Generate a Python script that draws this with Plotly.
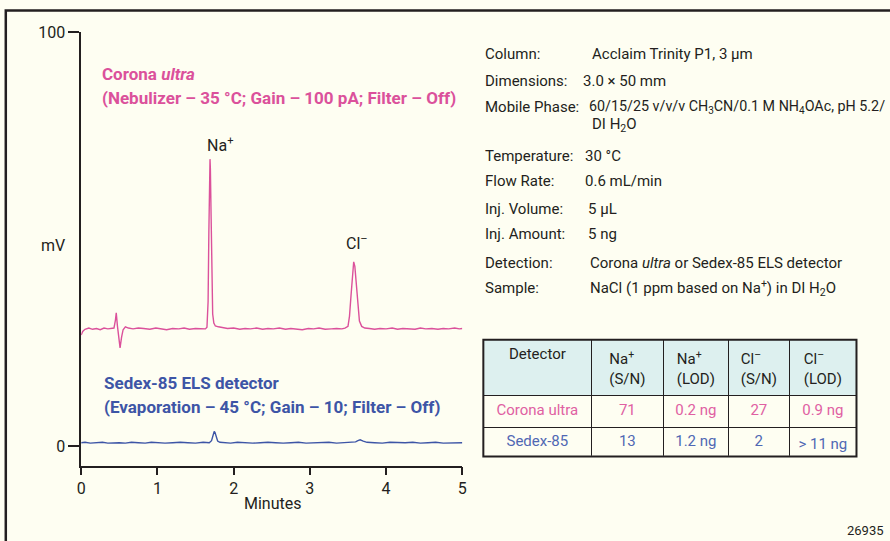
import plotly.graph_objects as go

# ---------------- data ----------------
corona_t = [0.00, 0.02, 0.05, 0.10, 0.15, 0.20, 0.25, 0.30, 0.35, 0.40, 0.43, 0.45, 0.46, 0.475,
            0.49, 0.51, 0.53, 0.55, 0.58, 0.62, 0.68, 0.75, 0.82, 0.90, 0.98, 1.05, 1.12, 1.20,
            1.28, 1.35, 1.42, 1.50, 1.56, 1.60, 1.63, 1.65, 1.665, 1.675, 1.685, 1.69, 1.695,
            1.705, 1.715, 1.725, 1.74, 1.76, 1.80, 1.86, 1.92, 2.00, 2.08, 2.15, 2.22, 2.30,
            2.38, 2.45, 2.52, 2.60, 2.68, 2.75, 2.82, 2.90, 2.98, 3.05, 3.12, 3.20, 3.28, 3.35,
            3.42, 3.46, 3.50, 3.52, 3.54, 3.56, 3.575, 3.59, 3.61, 3.63, 3.65, 3.68, 3.72, 3.78,
            3.85, 3.92, 4.00, 4.08, 4.15, 4.22, 4.30, 4.38, 4.45, 4.52, 4.60, 4.68, 4.75, 4.82,
            4.90, 4.96, 5.00]
corona_mv = [26.9, 27.8, 28.3, 28.6, 28.3, 28.5, 28.2, 28.6, 28.4, 28.5, 28.6, 30.6, 32.3, 29.2,
             26.0, 23.8, 26.4, 28.2, 28.9, 28.6, 28.4, 28.6, 28.5, 28.3, 28.6, 28.4, 28.2, 28.5,
             28.4, 28.6, 28.3, 28.5, 28.4, 28.3, 28.4, 28.8, 35.0, 52.0, 66.0, 69.4, 67.0,
             55.0, 40.0, 32.0, 29.8, 29.1, 28.9, 28.7, 28.5, 28.6, 28.3, 28.5, 28.4, 28.6,
             28.3, 28.5, 28.4, 28.6, 28.3, 28.5, 28.4, 28.2, 28.5, 28.4, 28.6, 28.3, 28.4, 28.5,
             28.4, 28.6, 29.0, 31.5, 36.5, 42.0, 44.6, 43.5, 39.0, 33.5, 30.3, 29.0, 28.6, 28.5,
             28.3, 28.5, 28.4, 28.6, 28.3, 28.5, 28.4, 28.3, 28.6, 28.4, 28.5, 28.3, 28.5, 28.4,
             28.6, 28.4, 28.5]

sedex_t = [0.00, 0.05, 0.12, 0.20, 0.28, 0.35, 0.42, 0.50, 0.58, 0.66, 0.75, 0.84, 0.92, 1.00,
           1.10, 1.20, 1.30, 1.40, 1.50, 1.60, 1.68, 1.71, 1.73, 1.745, 1.755, 1.77, 1.79, 1.82,
           1.88, 1.96, 2.05, 2.15, 2.25, 2.35, 2.45, 2.55, 2.65, 2.75, 2.85, 2.95, 3.05, 3.15,
           3.25, 3.35, 3.45, 3.55, 3.60, 3.63, 3.66, 3.70, 3.75, 3.85, 3.95, 4.05, 4.15, 4.25,
           4.35, 4.45, 4.55, 4.65, 4.75, 4.85, 4.95, 5.00]
sedex_mv = [0.9, 1.0, 0.8, 0.9, 1.0, 0.8, 0.9, 0.9, 0.8, 1.0, 0.9, 0.8, 1.0, 0.9,
            0.8, 0.9, 1.0, 0.9, 0.8, 1.0, 0.9, 1.4, 2.8, 3.6, 3.4, 2.2, 1.3, 1.0,
            0.9, 0.8, 1.0, 0.9, 0.8, 0.9, 1.0, 0.9, 0.8, 0.9, 1.0, 0.8, 0.9, 0.9,
            1.0, 0.8, 0.9, 1.0, 1.1, 1.4, 1.6, 1.3, 1.0, 0.9, 0.8, 1.0, 0.9, 0.9,
            1.0, 0.8, 0.9, 1.0, 0.8, 0.9, 1.0, 0.9]

x_ticks = [0, 1, 2, 3, 4, 5]
y_ticks = [0, 100]

peak_names = ["Na<sup>+</sup>", "Cl<sup>–</sup>"]
peak_times = [1.69, 3.575]
peak_label_mv = [70.0, 46.3]

cond_labels = ["Column:", "Dimensions:", "Mobile Phase:", "", "Temperature:", "Flow Rate:",
               "Inj. Volume:", "Inj. Amount:", "Detection:", "Sample:"]
cond_values = ["Acclaim Trinity P1, 3 µm", "3.0 × 50 mm",
               "60/15/25 v/v/v CH<sub>3</sub>CN/0.1 M NH<sub>4</sub>OAc, pH 5.2/",
               "DI H<sub>2</sub>O", "30 °C", "0.6 mL/min", "5 µL", "5 ng",
               "Corona <i>ultra</i> or Sedex-85 ELS detector",
               "NaCl (1 ppm based on Na<sup>+</sup>) in DI H<sub>2</sub>O"]

table_header = ["Detector", "Na<sup>+</sup><br>(S/N)", "Na<sup>+</sup><br>(LOD)",
                "Cl<sup>–</sup><br>(S/N)", "Cl<sup>–</sup><br>(LOD)"]
table_detectors = ["Corona ultra", "Sedex-85"]
na_sn = ["71", "13"]
na_lod = ["0.2 ng", "1.2 ng"]
cl_sn = ["27", "2"]
cl_lod = ["0.9 ng", "> 11 ng"]

# ---------------- style ----------------
W, H = 890, 541
BG = "#FEFEF2"
PINK = "#DB519B"
PINK_T = "#E060A2"
BLUE = "#3D55A6"
BLUE_T = "#5068B4"
INK = "#231F20"
FONT = "Roboto, Liberation Sans, sans-serif"

# the page is photographed with a slight scale/offset; place items by target pixel
SX, OX = 0.9895, 4.85
SY, OY = 0.9855, 7.5


def px(x):
    return ((x - OX) / SX) / W


def py(y):
    return 1 - ((y - OY) / SY) / H


fig = go.Figure()
fig.add_trace(go.Scatter(x=corona_t, y=corona_mv, mode="lines",
                         line=dict(color=PINK, width=1.4), showlegend=False, hoverinfo="skip"))
fig.add_trace(go.Scatter(x=sedex_t, y=sedex_mv, mode="lines",
                         line=dict(color=BLUE, width=1.4), showlegend=False, hoverinfo="skip"))

# table
nb = lambda vals: [v.replace(" ", "\u00a0") for v in vals]
cols = [nb(table_detectors), nb(na_sn), nb(na_lod), nb(cl_sn), nb(cl_lod)]
row_colors = [PINK_T, BLUE_T]
fig.add_trace(go.Table(
    domain=dict(x=[px(483), px(856)], y=[py(456), py(339)]),
    columnwidth=[108, 72, 65, 61, 67],
    header=dict(values=table_header, fill_color="#DDF0EF", line=dict(color=INK, width=1),
                align="center", height=55.8, font=dict(family=FONT, size=15, color=INK)),
    cells=dict(values=cols, fill_color=BG, line=dict(color=INK, width=1), align="center",
               height=31.5, font=dict(family=FONT, size=15, color=[row_colors] * 5)),
))

annotations = []
# trace captions
CAP = 17
captions = [("<b>Corona <i>ultra</i></b>", 100, 73, PINK),
            ("<b>(Nebulizer – 35 °C; Gain – 100 pA; Filter – Off)</b>", 100, 97, PINK),
            ("<b>Sedex-85 ELS detector</b>", 102, 382, BLUE),
            ("<b>(Evaporation – 45 °C; Gain – 10; Filter – Off)</b>", 102, 406, BLUE)]
for txt, cx, cy, col in captions:
    annotations.append(dict(x=px(cx), y=py(cy), xref="paper", yref="paper", xanchor="left",
                            yanchor="middle", showarrow=False, text=txt,
                            font=dict(family=FONT, size=CAP, color=col)))
# peak labels
label_shift = [10, 3]
for name, t, v, sh in zip(peak_names, peak_times, peak_label_mv, label_shift):
    annotations.append(dict(x=t, y=v, xref="x", yref="y", showarrow=False, text=name,
                            xanchor="center", yanchor="bottom", xshift=sh,
                            font=dict(family=FONT, size=16, color=INK)))
# axis titles
annotations.append(dict(x=px(53), y=py(245), xref="paper", yref="paper", showarrow=False,
                        xanchor="center", yanchor="middle",
                        text="mV", font=dict(family=FONT, size=16, color=INK)))
annotations.append(dict(x=px(273), y=py(503), xref="paper", yref="paper", showarrow=False,
                        xanchor="center", yanchor="middle",
                        text="Minutes", font=dict(family=FONT, size=16, color=INK)))
# conditions block
row_y = [53, 80, 106, 124, 155, 180, 208, 233, 262, 287]
val_x = [590, 581, 587, 590, 583, 583, 586, 586, 588, 588]
val_size = [15, 15, 14.3, 15, 15, 15, 15, 15, 15, 15]
for lab, val, yy, vx, vs in zip(cond_labels, cond_values, row_y, val_x, val_size):
    if lab:
        annotations.append(dict(x=px(483), y=py(yy), xref="paper", yref="paper",
                                xanchor="left", yanchor="middle", showarrow=False, text=lab,
                                font=dict(family=FONT, size=15, color=INK)))
    annotations.append(dict(x=px(vx), y=py(yy), xref="paper", yref="paper",
                            xanchor="left", yanchor="middle", showarrow=False, text=val,
                            font=dict(family=FONT, size=vs, color=INK)))
annotations.append(dict(x=px(886), y=py(530), xref="paper", yref="paper", xanchor="right",
                        yanchor="middle", showarrow=False, text="26935",
                        font=dict(family=FONT, size=13, color=INK)))

shapes = [
    dict(type="rect", xref="paper", yref="paper", x0=0.8 / W, x1=px(905), y0=py(570),
         y1=py(9), line=dict(color=INK, width=2.5), fillcolor="rgba(0,0,0,0)", layer="below"),
    dict(type="rect", xref="paper", yref="paper", x0=px(483), x1=px(856), y0=py(456),
         y1=py(339), line=dict(color=INK, width=2), fillcolor="rgba(0,0,0,0)"),
]

fig.update_layout(
    width=W, height=H, margin=dict(l=0, r=0, t=0, b=0),
    paper_bgcolor=BG, plot_bgcolor=BG,
    font=dict(family=FONT, size=16, color=INK),
    annotations=annotations, shapes=shapes,
    xaxis=dict(domain=[px(81), px(462)], range=[0, 5], tickvals=x_ticks,
               showline=True, linecolor=INK, linewidth=1.5, ticks="outside", ticklen=8,
               tickwidth=1.5, tickcolor=INK, showgrid=False, zeroline=False,
               tickfont=dict(family=FONT, size=16, color=INK), fixedrange=True),
    yaxis=dict(domain=[py(465), py(31)], range=[-4.6, 100], tickvals=y_ticks,
               showline=True, linecolor=INK, linewidth=1.5, ticks="outside", ticklen=11,
               tickwidth=1.5, tickcolor=INK, showgrid=False, zeroline=False,
               tickfont=dict(family=FONT, size=16, color=INK), fixedrange=True),
)

page_js = ("document.documentElement.style.margin='0';document.body.style.margin='0';"
           "document.body.style.padding='0';document.body.style.overflow='hidden';"
           "document.body.style.background='" + BG + "';")
fig.write_html("out.html", post_script=page_js, config={"displayModeBar": False})
